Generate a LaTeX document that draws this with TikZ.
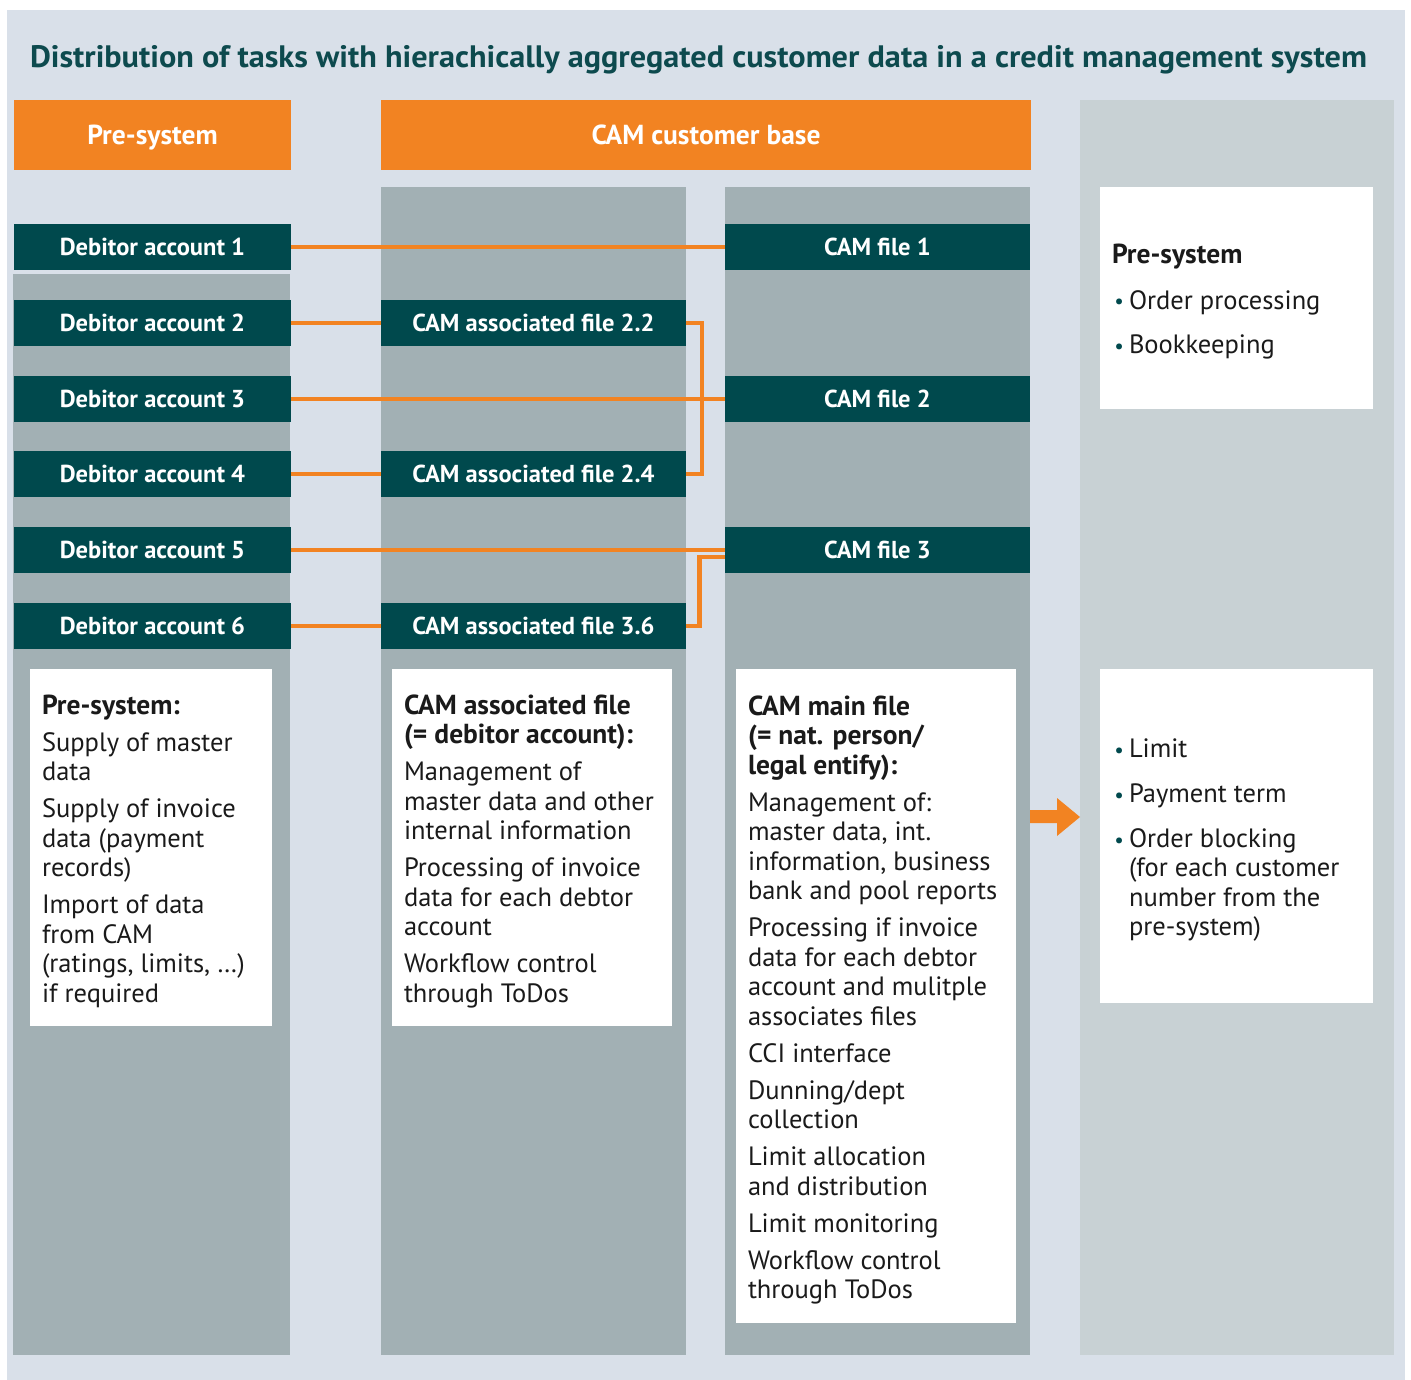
\documentclass[tikz,border=0pt]{standalone}
\usepackage{fontspec}
\setmainfont{PT Sans}
\usetikzlibrary{calc}
\definecolor{bgc}{HTML}{D9E0E9}
\definecolor{colgray}{HTML}{A2B0B4}
\definecolor{colgrayb}{HTML}{C8D1D4}
\definecolor{orng}{HTML}{F28322}
\definecolor{dteal}{HTML}{00494D}
\definecolor{titlec}{HTML}{0D4A4E}
\definecolor{textc}{HTML}{1A1A1A}
\newcommand\bul{\llap{\textcolor{dteal}{\scalebox{0.8}{•}}\hspace{5pt}}}
\newcommand\fst{\rule{0pt}{22pt}}
\newcommand\hd[1]{{\fontsize{27.5}{29.5}\selectfont\bfseries #1}}
\begin{document}
\begin{tikzpicture}[x=1pt,y=-1pt,
  every node/.style={inner sep=0pt, outer sep=0pt},
  darkbox/.style={fill=dteal, text=white, font=\fontsize{24.5}{28}\selectfont\bfseries, anchor=north west, minimum height=46pt},
  header/.style={fill=orng, text=white, font=\fontsize{27.5}{31}\selectfont\bfseries, anchor=north west, minimum height=70pt, text height=19pt, text depth=0pt},
  conn/.style={draw=orng, line width=4.5pt, line join=miter},
  body/.style={anchor=north west, align=left, text=textc, font=\fontsize{26.5}{29.5}\selectfont},
]
\useasboundingbox (0,0) rectangle (1411,1380);
\fill[bgc] (7,10) rectangle (1405,1380);

\node[anchor=base west, text=titlec, font=\fontsize{31}{36}\selectfont\bfseries] (title) at (30,68)
  {\resizebox{1337pt}{\height}{Distribution of tasks with hierachically aggregated customer data in a credit management system}};

% columns
\fill[colgray] (13,274) rectangle (290,1355);
\fill[colgray] (381,187) rectangle (686,1355);
\fill[colgray] (725,187) rectangle (1030,1355);
\fill[colgrayb] (1080,100) rectangle (1394,1355);

% headers
\node[header, minimum width=277pt] (h1) at (14,100) {Pre-system};
\node[header, minimum width=650pt] (h2) at (381,100) {CAM customer base};

% dark boxes
\node[darkbox, minimum width=277pt] (d1) at (14,224) {Debitor account 1};
\node[darkbox, minimum width=277pt] (d2) at (14,300) {Debitor account 2};
\node[darkbox, minimum width=277pt] (d3) at (14,376) {Debitor account 3};
\node[darkbox, minimum width=277pt] (d4) at (14,451) {Debitor account 4};
\node[darkbox, minimum width=277pt] (d5) at (14,527) {Debitor account 5};
\node[darkbox, minimum width=277pt] (d6) at (14,603) {Debitor account 6};
\node[darkbox, minimum width=305pt] (a22) at (381,300) {CAM associated file 2.2};
\node[darkbox, minimum width=305pt] (a24) at (381,451) {CAM associated file 2.4};
\node[darkbox, minimum width=305pt] (a36) at (381,603) {CAM associated file 3.6};
\node[darkbox, minimum width=305pt] (f1) at (725,224) {CAM file 1};
\node[darkbox, minimum width=305pt] (f2) at (725,376) {CAM file 2};
\node[darkbox, minimum width=305pt] (f3) at (725,527) {CAM file 3};

% connectors
\draw[conn] (d1.east) -- (f1.west);
\draw[conn] (d2.east) -- (a22.west);
\draw[conn] (d3.east) -- (f2.west);
\draw[conn] (d4.east) -- (a24.west);
\draw[conn] (d5.east) -- (d5.east -| f3.west);
\draw[conn] (d6.east) -- (a36.west);
\draw[conn] (a22.east) -- ++(16,0) |- (a24.east);
\draw[conn] (a36.east) -- ++(13.5,0) |- ($(f3.west)+(0,7)$);

% arrow
\fill[orng] (1030,810) -- (1057,810) -- (1057,798) -- (1080,817) -- (1057,836) -- (1057,823) -- (1030,823) -- cycle;

% white boxes
\fill[white] (30,669) rectangle (272,1026);
\node[body] (t1) at (42,692) {\fst\hd{Pre-system:}\\[7.5pt] Supply of master\\ data\\[7.5pt] Supply of invoice\\ data (payment\\ records)\\[7.5pt] Import of data\\ from CAM\\ (ratings, limits, …)\\ if required};

\fill[white] (392,669) rectangle (672,1026);
\node[body] (t2) at (404,692) {\fst\hd{CAM associated file}\\ \hd{(= debitor account):}\\[7.5pt] Management of\\ master data and other\\ internal information\\[7.5pt] Processing of invoice\\ data for each debtor\\ account\\[7.5pt] Workflow control\\ through ToDos};

\fill[white] (736,669) rectangle (1016,1323);
\node[body] (t3) at (748,693) {\fst\hd{CAM main file}\\ \hd{(= nat. person/}\\ \hd{legal entify):}\\[7.5pt] Management of:\\ master data, int.\\ information, business\\ bank and pool reports\\[7.5pt] Processing if invoice\\ data for each debtor\\ account and mulitple\\ associates files\\[7.5pt] CCI interface\\[7.5pt] Dunning/dept\\ collection\\[7.5pt] Limit allocation\\ and distribution\\[7.5pt] Limit monitoring\\[7.5pt] Workflow control\\ through ToDos};

\fill[white] (1100,187) rectangle (1373,409);
\node[body] (t4h) at (1112,242) {\fst\hd{Pre-system}};
\node[body, font=\fontsize{26.5}{44.5}\selectfont] (t4) at (1129,287) {\fst\bul Order processing\\ \bul Bookkeeping};

\fill[white] (1100,669) rectangle (1373,1003);
\node[body] (t5) at (1129,735) {\fst\bul Limit\\[15.5pt] \bul Payment term\\[15.5pt] \bul Order blocking\\ (for each customer\\ number from the\\ pre-system)};
\end{tikzpicture}
\end{document}
